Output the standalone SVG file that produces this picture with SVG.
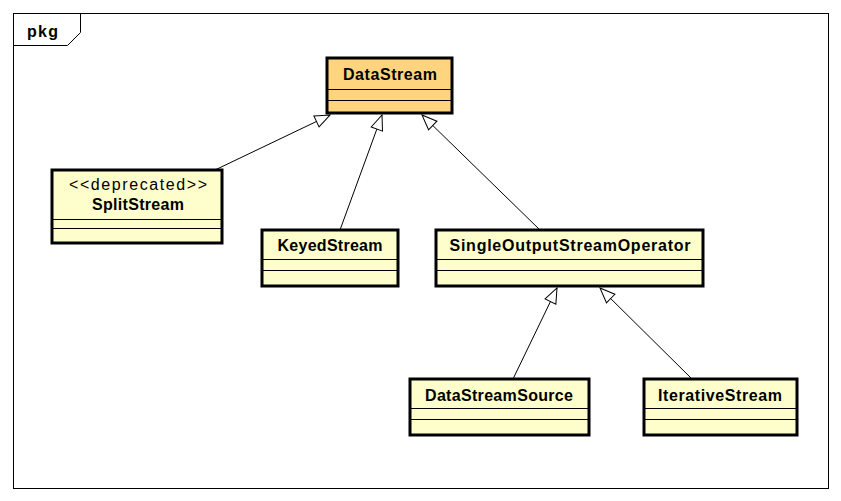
<svg xmlns="http://www.w3.org/2000/svg" width="841" height="501" viewBox="0 0 841 501">
  <style>
    .box { fill: #fefecd; stroke: #000; stroke-width: 3; }
    .root { fill: #ffd47f; stroke: #000; stroke-width: 3; }
    .div { stroke: #000; stroke-width: 1; }
    .name { font-family: "Liberation Sans", Arial, sans-serif; font-weight: bold; font-size: 16px; fill: #000; text-anchor: middle; }
    .stereo { font-family: "Liberation Sans", Arial, sans-serif; font-size: 16px; fill: #000; text-anchor: middle; }
    .conn { stroke: #000; stroke-width: 1; fill: none; marker-end: url(#gen); }
  </style>
  <defs>
    <marker id="gen" markerUnits="userSpaceOnUse" markerWidth="18" markerHeight="14" refX="15" refY="6" orient="auto" overflow="visible">
      <path d="M0,0 L15,6 L0,12 Z" fill="#fff" stroke="#000" stroke-width="1"/>
    </marker>
  </defs>
  <rect x="0" y="0" width="841" height="501" fill="#fff"/>
  <g id="frame">
    <rect x="13.5" y="13.5" width="815" height="475" fill="none" stroke="#000" stroke-width="1"/>
    <path d="M13.5,45.5 L67.5,45.5 L80.5,32.5 L80.5,13.5" fill="none" stroke="#000" stroke-width="1"/>
    <text x="27" y="37" font-family="Liberation Sans, Arial, sans-serif" font-weight="bold" font-size="16" textLength="31" lengthAdjust="spacing">pkg</text>
  </g>
  <g id="connectors">
    <line class="conn" x1="215" y1="170" x2="330" y2="115"/>
    <line class="conn" x1="340" y1="230" x2="382" y2="115"/>
    <line class="conn" x1="540" y1="230" x2="422" y2="115"/>
    <line class="conn" x1="513" y1="379" x2="557" y2="288"/>
    <line class="conn" x1="692" y1="379" x2="600" y2="288"/>
  </g>
  <g id="DataStream">
    <rect class="root" x="327" y="58" width="125" height="55"/>
    <line class="div" x1="327" y1="89.5" x2="452" y2="89.5"/>
    <line class="div" x1="327" y1="100.5" x2="452" y2="100.5"/>
    <text class="name" x="390" y="80" textLength="94" lengthAdjust="spacing">DataStream</text>
  </g>
  <g id="SplitStream">
    <rect class="box" x="52" y="170" width="170" height="73"/>
    <line class="div" x1="52" y1="219.5" x2="222" y2="219.5"/>
    <line class="div" x1="52" y1="228.5" x2="222" y2="228.5"/>
    <text class="stereo" x="138" y="190" textLength="138" lengthAdjust="spacing">&lt;&lt;deprecated&gt;&gt;</text>
    <text class="name" x="138" y="210" textLength="92" lengthAdjust="spacing">SplitStream</text>
  </g>
  <g id="KeyedStream">
    <rect class="box" x="262" y="230" width="136" height="56"/>
    <line class="div" x1="262" y1="259.5" x2="398" y2="259.5"/>
    <line class="div" x1="262" y1="270.5" x2="398" y2="270.5"/>
    <text class="name" x="330" y="251" textLength="105" lengthAdjust="spacing">KeyedStream</text>
  </g>
  <g id="SingleOutputStreamOperator">
    <rect class="box" x="436" y="230" width="267" height="56"/>
    <line class="div" x1="436" y1="259.5" x2="703" y2="259.5"/>
    <line class="div" x1="436" y1="270.5" x2="703" y2="270.5"/>
    <text class="name" x="570" y="251" textLength="241" lengthAdjust="spacing">SingleOutputStreamOperator</text>
  </g>
  <g id="DataStreamSource">
    <rect class="box" x="410" y="379" width="179" height="56"/>
    <line class="div" x1="410" y1="408.5" x2="589" y2="408.5"/>
    <line class="div" x1="410" y1="419.5" x2="589" y2="419.5"/>
    <text class="name" x="499" y="401" textLength="148" lengthAdjust="spacing">DataStreamSource</text>
  </g>
  <g id="IterativeStream">
    <rect class="box" x="644" y="379" width="153" height="56"/>
    <line class="div" x1="644" y1="408.5" x2="797" y2="408.5"/>
    <line class="div" x1="644" y1="419.5" x2="797" y2="419.5"/>
    <text class="name" x="720" y="401" textLength="124" lengthAdjust="spacing">IterativeStream</text>
  </g>
</svg>
